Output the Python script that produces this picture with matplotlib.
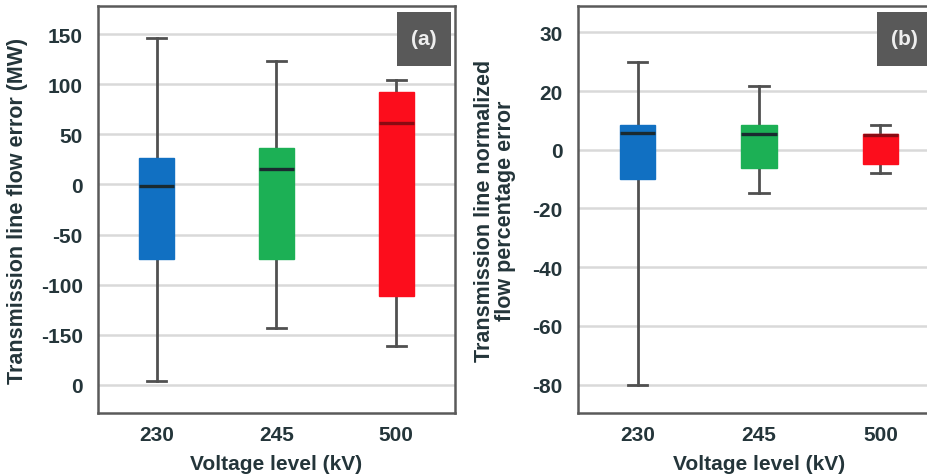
import matplotlib
matplotlib.use("Agg")
import matplotlib.pyplot as plt
from matplotlib.patches import Rectangle

plt.rcParams['font.family'] = ['Liberation Sans', 'DejaVu Sans']

# voltage levels
categories = ['230', '245', '500']
colors = ['#1170c2', '#1cb055', '#fc0d1c']
median_colors = ['#1a2a30', '#1a2a30', '#8a0a12']

# (a) line flow error, MW
flow_whislo = [-196, -143, -161]
flow_q1 = [-74, -74, -111]
flow_med = [-2, 15, 61]
flow_q3 = [26, 36, 92]
flow_whishi = [146, 123, 104]
flow_ticks = [150, 100, 50, 0, -50, -100, -150, -200]
flow_ticklabels = ['150', '100', '50', '0', '-50', '-100', '-150', '0']

# (b) normalized flow percentage error
pct_whislo = [-80, -14.8, -7.8]
pct_q1 = [-9.9, -6.1, -5.0]
pct_med = [5.6, 5.5, 5.2]
pct_q3 = [8.3, 8.3, 5.5]
pct_whishi = [29.9, 21.9, 8.3]
pct_ticks = [40, 20, 0, -20, -40, -60, -80]
pct_ticklabels = ['30', '20', '0', '-20', '-40', '-60', '-80']

text_color = '#24353a'
frame_color = '#5a5a5a'
fs = 15


def draw_panel(ax, lo, q1, med, q3, hi, ticks, ticklabels, ylim, ylabel,
               tag, tag_x, ylabel_fs):
    stats = []
    for i in range(len(categories)):
        stats.append(dict(whislo=lo[i], q1=q1[i], med=med[i], q3=q3[i],
                          whishi=hi[i], fliers=[], label=categories[i]))
    parts = ax.bxp(stats, positions=range(len(categories)), widths=0.29,
                   patch_artist=True, showfliers=False,
                   whiskerprops=dict(color='#505050', linewidth=2),
                   capprops=dict(color='#505050', linewidth=2),
                   capwidths=0.16)
    for i, box in enumerate(parts['boxes']):
        box.set_facecolor(colors[i])
        box.set_edgecolor(colors[i])
        box.set_linewidth(1.0)
        box.set_zorder(3)
    for i, m in enumerate(parts['medians']):
        m.set_color(median_colors[i])
        m.set_linewidth(2.4)
        m.set_zorder(4)

    ax.set_xlim(-0.49, 2.49)
    ax.set_ylim(*ylim)
    ax.set_yticks(ticks)
    ax.set_yticklabels(ticklabels)
    ax.grid(axis='y', color='#d9d9d9', linewidth=1.8)
    ax.set_axisbelow(True)
    ax.tick_params(length=0, labelsize=fs, labelcolor=text_color)
    ax.tick_params(axis='y', pad=11)
    ax.tick_params(axis='x', pad=9)
    for lbl in ax.get_xticklabels() + ax.get_yticklabels():
        lbl.set_fontweight('bold')
    for s in ax.spines.values():
        s.set_color(frame_color)
        s.set_linewidth(1.8)
    ax.set_xlabel('Voltage level (kV)', fontsize=fs, fontweight='bold',
                  color=text_color, labelpad=7)
    ax.set_ylabel(ylabel, fontsize=ylabel_fs, fontweight='bold',
                  color=text_color, linespacing=1.0)

    # panel tag box, 54 px square
    w = 54 / (ax.get_position().width * 928)
    h = 54 / (ax.get_position().height * 477)
    ax.add_patch(Rectangle((tag_x, 0.853), w, h, transform=ax.transAxes,
                           facecolor='#595959', edgecolor='none', zorder=5,
                           clip_on=False))
    ax.text(tag_x + w / 2, 0.853 + h / 2, tag, transform=ax.transAxes,
            ha='center', va='center', color='#eeeeee', fontsize=15,
            fontweight='bold', zorder=6)


fig = plt.figure(figsize=(9.28, 4.77), dpi=100)
ax1 = fig.add_axes([98 / 928, 63 / 477, 357 / 928, 407 / 477])
ax2 = fig.add_axes([578 / 928, 63 / 477, 362 / 928, 407 / 477])

draw_panel(ax1, flow_whislo, flow_q1, flow_med, flow_q3, flow_whishi,
           flow_ticks, flow_ticklabels, (-228, 178),
           'Transmission line flow error (MW)', '(a)', 0.838, 15.5)
draw_panel(ax2, pct_whislo, pct_q1, pct_med, pct_q3, pct_whishi,
           pct_ticks, pct_ticklabels, (-89.7, 49),
           'Transmission line normalized\nflow percentage error', '(b)', 0.826,
           15.5)
ax1.yaxis.set_label_coords(-0.195, 0.5)
ax2.yaxis.set_label_coords(-0.17, 0.5)

fig.savefig('out.png', dpi=100)
